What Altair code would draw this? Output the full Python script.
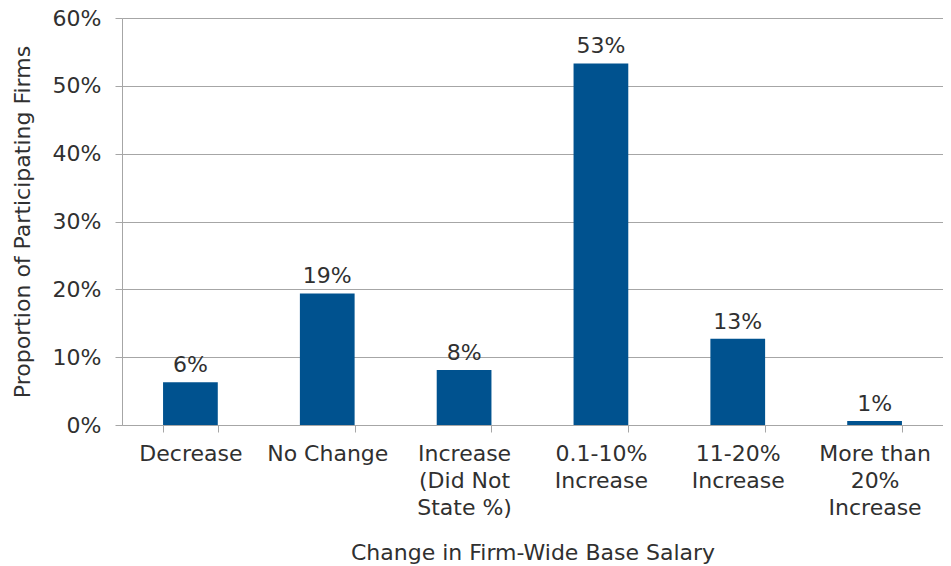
import altair as alt
import pandas as pd

categories = ["Decrease", "No Change", "Increase|(Did Not|State %)", "0.1-10%|Increase",
              "11-20%|Increase", "More than|20%|Increase"]
values = [0.063, 0.194, 0.081, 0.533, 0.127, 0.006]
labels = ["6%", "19%", "8%", "53%", "13%", "1%"]
y_ticks = [0, 0.1, 0.2, 0.3, 0.4, 0.5, 0.6]

df = pd.DataFrame({"cat": categories, "val": values, "lab": labels})

FONT = "DejaVu Sans"
TXT = "#303030"
GRID = "#a6a6a6"
FS = 22

x = alt.X("cat:N", sort=categories, title="Change in Firm-Wide Base Salary",
          scale=alt.Scale(paddingInner=0.6, paddingOuter=0.3),
          axis=alt.Axis(labelExpr="split(datum.label, '|')", labelAngle=0,
                        tickBand="extent", tickSize=7, tickColor=GRID, domainColor=GRID,
                        labelFont=FONT, labelFontSize=FS, labelColor=TXT, labelPadding=11,
                        labelLineHeight=27, labelBaseline="top",
                        titleFont=FONT, titleFontSize=FS, titleColor=TXT, titleFontWeight="normal",
                        titlePadding=24))
y = alt.Y("val:Q", title="Proportion of Participating Firms",
          scale=alt.Scale(domain=[0, 0.6]),
          axis=alt.Axis(values=y_ticks, format=".0%", tickSize=7, tickColor=GRID,
                        domainColor=GRID, gridColor=GRID, grid=True,
                        labelFont=FONT, labelFontSize=FS, labelColor=TXT, labelPadding=14,
                        titleFont=FONT, titleFontSize=FS, titleColor=TXT, titleFontWeight="normal",
                        titlePadding=18))

bars = alt.Chart(df).mark_bar(color="#00528F").encode(x=x, y=y)
text = alt.Chart(df).mark_text(dy=-17, font=FONT, fontSize=FS, color=TXT).encode(
    x=alt.X("cat:N", sort=categories), y="val:Q", text="lab:N")

chart = (bars + text).properties(
    width=821, height=407,
    autosize=alt.AutoSizeParams(type="none"),
    padding={"left": 114, "top": 10, "right": 0, "bottom": 140},
).configure_view(stroke=None).configure(background="white")

chart.save("out.html", embed_options={"renderer": "svg", "actions": False})
